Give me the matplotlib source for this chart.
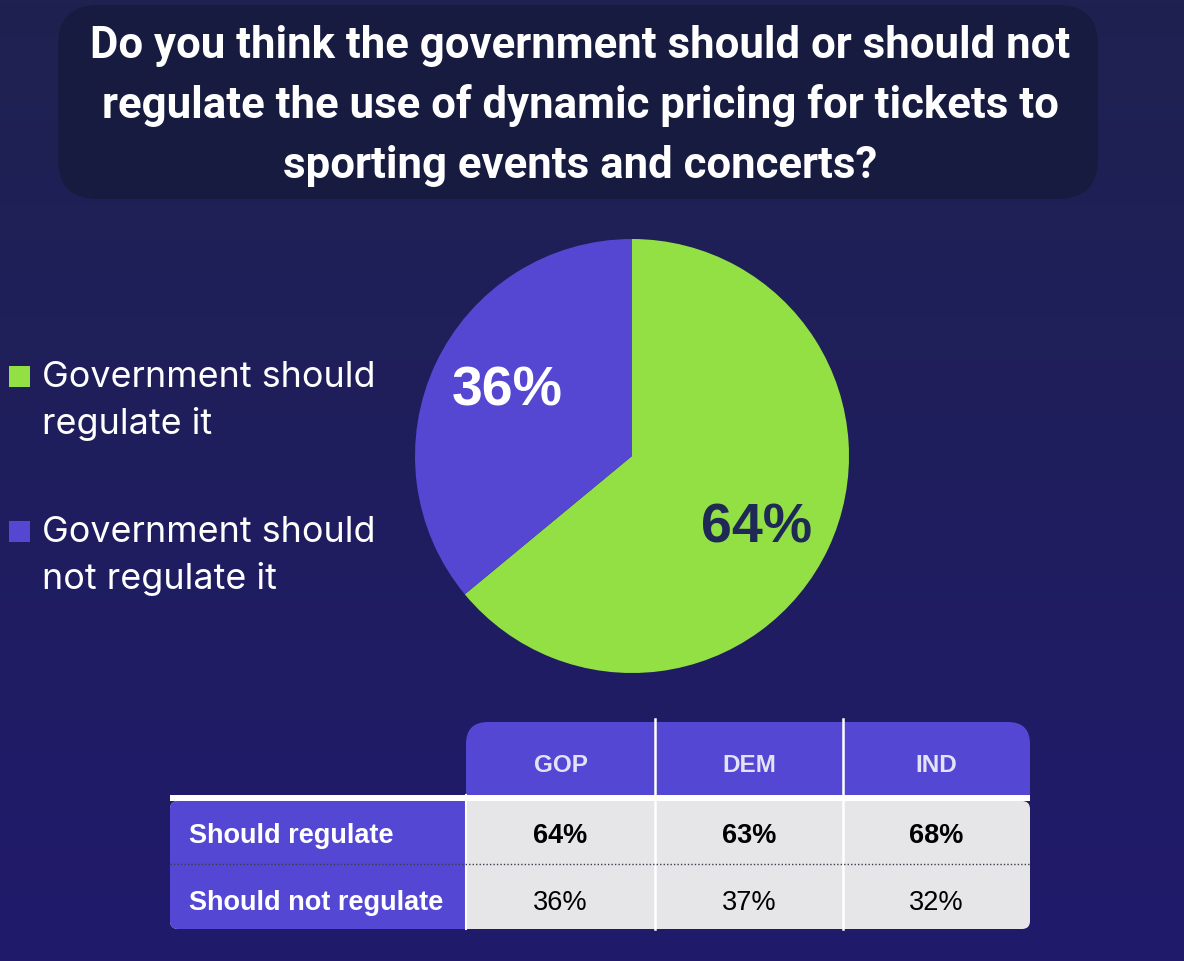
import numpy as np
import matplotlib
matplotlib.use("Agg")
import matplotlib.pyplot as plt
from matplotlib.patches import FancyBboxPatch, Rectangle

# ---------------- data ----------------
title_lines = ["Do you think the government should or should not",
               "regulate the use of dynamic pricing for tickets to",
               "sporting events and concerts?"]
pie_labels = ["Government should\nregulate it", "Government should\nnot regulate it"]
pie_values = [64, 36]
pie_colors = ["#93e044", "#5547d2"]
pct_colors = ["#1e2a55", "#ffffff"]

table_cols = ["GOP", "DEM", "IND"]
table_rows = ["Should regulate", "Should not regulate"]
regulate_vals = [64, 63, 68]
not_regulate_vals = [36, 37, 32]

# ---------------- figure ----------------
W, H = 1184, 962
fig = plt.figure(figsize=(W / 100, H / 100), dpi=100)
bg = fig.add_axes([0, 0, 1, 1])
bg.set_xlim(0, W)
bg.set_ylim(H, 0)
bg.axis("off")

# vertical gradient background
top = np.array([0x1e, 0x22, 0x50]) / 255
bot = np.array([0x21, 0x1a, 0x6c]) / 255
t = np.linspace(0, 1, 256)[:, None]
grad = (top[None, :] * (1 - t) + bot[None, :] * t)[:, None, :]
bg.imshow(grad, extent=[0, W, H, 0], aspect="auto", zorder=0)

# title box
bg.add_patch(FancyBboxPatch((58, 6), 1040, 194,
                            boxstyle="round,pad=0,rounding_size=40",
                            fc="#171b40", ec="none", zorder=1))
for i, line in enumerate(title_lines):
    bg.text(580, 58 + 60 * i, line, ha="center", va="baseline", color="white",
            fontsize=31.5, fontweight="bold", family="Roboto", zorder=2)

# legend
leg_base = [387, 542]
for lab, col, yb in zip(pie_labels, pie_colors, leg_base):
    bg.add_patch(Rectangle((9, yb - 20), 21, 21, fc=col, ec="none", zorder=2))
    for j, ln in enumerate(lab.split("\n")):
        bg.text(42, yb + 47 * j, ln, ha="left", va="baseline", color="white",
                fontsize=25.8, family="Inter", zorder=2)

# pie
cx, cy, r = 632, 457, 217
pax = fig.add_axes([(cx - r) / W, 1 - (cy + r) / H, 2 * r / W, 2 * r / H])
wedges, texts, autotexts = pax.pie(pie_values, colors=pie_colors, startangle=90,
                                   counterclock=False, autopct="%1.0f%%",
                                   pctdistance=0.655, radius=1,
                                   wedgeprops=dict(linewidth=0))
rot = np.deg2rad(-3.7)
for at, c in zip(autotexts, pct_colors):
    x, y = at.get_position()
    at.set_position((x * np.cos(rot) - y * np.sin(rot),
                     x * np.sin(rot) + y * np.cos(rot) - 0.015))
    at.set_color(c)
    at.set_fontsize(40)
    at.set_fontweight("bold")
    at.set_family("Liberation Sans")
pax.set_xlim(-1, 1)
pax.set_ylim(-1, 1)
pax.set_aspect("equal")
pax.axis("off")

# table
x0, x1 = 170, 1030
col_edges = [466, 655, 843, 1030]
hdr_top, hdr_bot = 723, 796
row_edges = [802, 865, 930]
PURPLE = "#5447d3"
GREY = "#e6e6e8"

# header (rounded top)
bg.add_patch(FancyBboxPatch((466, hdr_top), 1030 - 466, 60,
                            boxstyle="round,pad=0,rounding_size=22",
                            fc=PURPLE, ec="none", zorder=2))
bg.add_patch(Rectangle((466, hdr_top + 30), 1030 - 466, hdr_bot - hdr_top - 30,
                       fc=PURPLE, ec="none", zorder=2))
# body (rounded bottom)
bh = row_edges[-1] - row_edges[0]
bg.add_patch(FancyBboxPatch((x0, row_edges[0]), x1 - x0, bh,
                            boxstyle="round,pad=0,rounding_size=8",
                            fc=GREY, ec="none", zorder=2))
bg.add_patch(FancyBboxPatch((x0, row_edges[0]), col_edges[0] - x0, bh,
                            boxstyle="round,pad=0,rounding_size=8",
                            fc=PURPLE, ec="none", zorder=2))
bg.add_patch(Rectangle((col_edges[0] - 20, row_edges[0]), 20, bh,
                       fc=PURPLE, ec="none", zorder=2))
bg.add_patch(Rectangle((col_edges[0], row_edges[0]), 20, bh,
                       fc=GREY, ec="none", zorder=2))
# white band under header
bg.add_patch(Rectangle((x0, hdr_bot), x1 - x0, row_edges[0] - hdr_bot,
                       fc="white", ec="none", zorder=3))
# vertical white dividers
for xe in col_edges[1:-1]:
    bg.plot([xe, xe], [hdr_top - 3, row_edges[-1]], color="white", lw=1.8, zorder=4)
bg.plot([col_edges[0], col_edges[0]], [hdr_bot, row_edges[-1]], color="white", lw=1.5, zorder=4)
# dotted row separator
bg.plot([x0, x1], [row_edges[1], row_edges[1]], color="#3c3c4a", lw=1,
        ls=(0, (1, 1.5)), zorder=4)

col_centers = [(a + b) / 2 for a, b in zip(col_edges[:-1], col_edges[1:])]
for c, name in zip(col_centers, table_cols):
    bg.text(c, 772, name, ha="center", va="baseline",
            color="#e4e2f6", fontsize=17.5, fontweight="bold",
            family="Liberation Sans", zorder=5)

row_base = [843, 910]
for yb, name, vals, wt in zip(row_base, table_rows,
                              [regulate_vals, not_regulate_vals], ["bold", "normal"]):
    bg.text(189, yb, name, ha="left", va="baseline", color="white",
            fontsize=19.5, fontweight="bold", family="Liberation Sans", zorder=5)
    for c, v in zip(col_centers, vals):
        bg.text(c, yb, f"{v}%", ha="center", va="baseline", color="black",
                fontsize=19.5, fontweight=wt, family="Liberation Sans", zorder=5)

fig.savefig("out.png", dpi=100)
